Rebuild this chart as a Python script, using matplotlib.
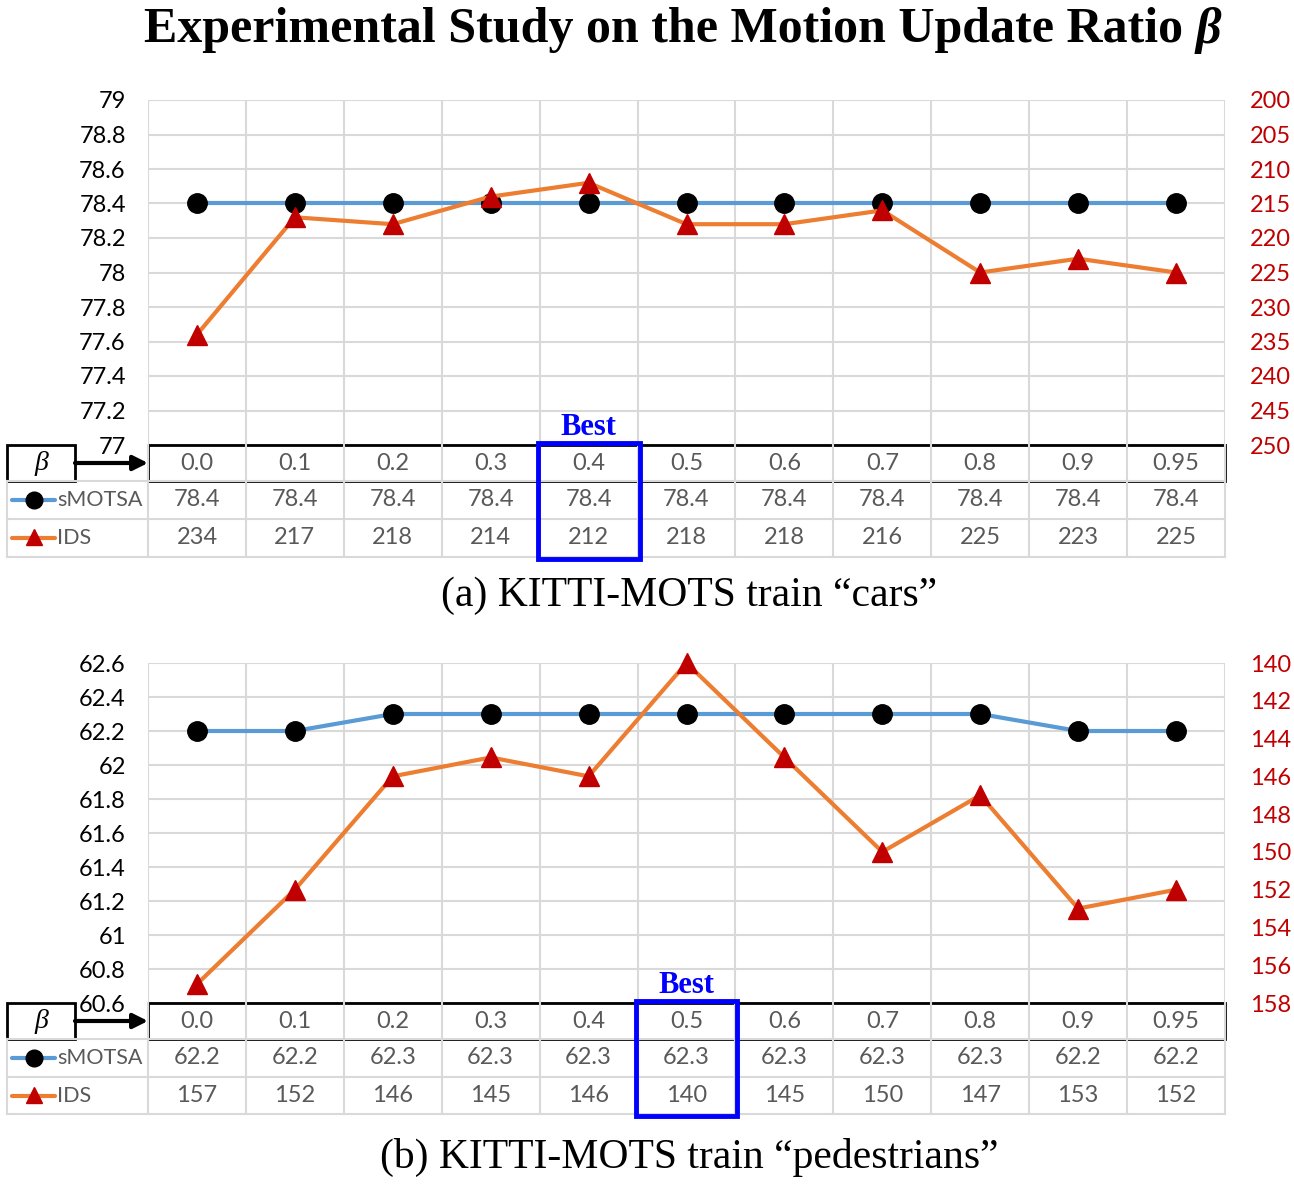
import matplotlib
matplotlib.use("Agg")
import matplotlib.pyplot as plt
import matplotlib.transforms as mtransforms
from matplotlib.patches import Rectangle

W, H = 1294, 1188

beta_labels = ["0.0", "0.1", "0.2", "0.3", "0.4", "0.5", "0.6", "0.7", "0.8", "0.9", "0.95"]

cars_smotsa = [78.4, 78.4, 78.4, 78.4, 78.4, 78.4, 78.4, 78.4, 78.4, 78.4, 78.4]
cars_ids = [234, 217, 218, 214, 212, 218, 218, 216, 225, 223, 225]
cars_best = 4

ped_smotsa = [62.2, 62.2, 62.3, 62.3, 62.3, 62.3, 62.3, 62.3, 62.3, 62.2, 62.2]
ped_ids = [157, 152, 146, 145, 146, 140, 145, 150, 147, 153, 152]
ped_best = 5

BLUE = "#5B9BD5"
ORANGE = "#ED7D31"
RED = "#C00000"
GRID = "#D9D9D9"
TXT = "#595959"
SANS = "Lato"
SERIF = "Liberation Serif"
FS = 17

fig = plt.figure(figsize=(W / 100, H / 100), dpi=100)

# overlay axes in pixel coordinates for table lines etc.
ov = fig.add_axes([0, 0, 1, 1])
ov.set_xlim(0, W)
ov.set_ylim(H, 0)
ov.axis("off")
ov.set_zorder(5)


def px_box(x0, y0, x1, y1):
    return [x0 / W, 1 - y1 / H, (x1 - x0) / W, (y1 - y0) / H]


def panel(top, bottom, rows, smotsa, ids, left_lim, left_step, right_lim, right_step,
          best, caption, cap_y):
    x0, x1 = 148, 1225
    ax = fig.add_axes(px_box(x0, top, x1, bottom))
    n = len(beta_labels)
    xs = list(range(n))
    ax.set_xlim(-0.5, n - 0.5)
    ax.set_ylim(*left_lim)
    nt = int(round((left_lim[1] - left_lim[0]) / left_step))
    ticks = [round(left_lim[0] + i * left_step, 2) for i in range(nt + 1)]
    ax.set_yticks(ticks)
    ax.set_yticklabels([f"{t:g}" for t in ticks], fontsize=FS, family=SANS)
    ax.tick_params(axis="y", length=0, pad=16)
    ax.set_xticks([])
    ax.grid(axis="y", color=GRID, linewidth=1.5)
    for b in range(n + 1):
        ax.axvline(b - 0.5, color=GRID, linewidth=1.5, zorder=0)
    for s in ax.spines.values():
        s.set_visible(False)
    ax.set_axisbelow(True)

    ax2 = ax.twinx()
    ax2.set_ylim(right_lim[1], right_lim[0])
    nr = int(round((right_lim[1] - right_lim[0]) / right_step))
    rt = [right_lim[0] + i * right_step for i in range(nr + 1)]
    ax2.set_yticks(rt)
    ax2.set_yticklabels([str(t) for t in rt], fontsize=FS, family=SANS, color=RED)
    ax2.tick_params(axis="y", length=0, pad=18)
    for s in ax2.spines.values():
        s.set_visible(False)

    ax.plot(xs, smotsa, color=BLUE, linewidth=3, marker="o", markersize=14,
            markerfacecolor="black", markeredgecolor="black", zorder=3, clip_on=False)
    ax2.plot(xs, ids, color=ORANGE, linewidth=3, marker="^", markersize=14,
             markerfacecolor=RED, markeredgecolor=RED, zorder=3, clip_on=False)

    # table
    tr = mtransforms.blended_transform_factory(ax.transData, ov.transData)
    r0, r1, r2, r3 = rows
    lx = 7
    for y in (r1, r2, r3):
        ov.plot([lx, x1], [y, y], color=GRID, linewidth=1.5)
    ov.plot([lx, lx], [r1, r3], color=GRID, linewidth=1.5)
    for b in range(n + 1):
        ov.plot([b - 0.5, b - 0.5], [bottom, r3], color=GRID, linewidth=1.5, transform=tr)
    ov.add_patch(Rectangle((x0, r0), x1 - x0, r1 - r0, fill=False, edgecolor="black",
                           linewidth=2))
    ov.add_patch(Rectangle((lx, r0), 75 - lx, r1 - r0, fill=False, edgecolor="black",
                           linewidth=2))
    ov.text(41, (r0 + r1) / 2 + 1, "β", fontsize=20, family=SERIF, style="italic",
            ha="center", va="center")
    ov.annotate("", xy=(x0, (r0 + r1) / 2), xytext=(75, (r0 + r1) / 2),
                arrowprops=dict(arrowstyle="-|>", color="black", lw=3,
                                mutation_scale=22, shrinkA=0, shrinkB=0))
    ym1 = (r1 + r2) / 2
    ym2 = (r2 + r3) / 2
    ov.plot([12, 55], [ym1, ym1], color=BLUE, linewidth=3, solid_capstyle="round")
    ov.plot([34], [ym1], marker="o", markersize=12, color="black")
    ov.plot([12, 55], [ym2, ym2], color=ORANGE, linewidth=3, solid_capstyle="round")
    ov.plot([34], [ym2 - 1], marker="^", markersize=12, color=RED)
    ov.text(57, ym1, "sMOTSA", fontsize=15.5, family=SANS, color=TXT, va="center")
    ov.text(57, ym2, "IDS", fontsize=15.5, family=SANS, color=TXT, va="center")
    for i in range(n):
        ov.text(i, (r0 + r1) / 2, beta_labels[i], transform=tr, fontsize=FS, family=SANS,
                color=TXT, ha="center", va="center")
        ov.text(i, ym1, f"{smotsa[i]:g}", transform=tr, fontsize=FS, family=SANS,
                color=TXT, ha="center", va="center")
        ov.text(i, ym2, str(ids[i]), transform=tr, fontsize=FS, family=SANS,
                color=TXT, ha="center", va="center")

    # best box
    ov.add_patch(Rectangle((best - 0.52, r0 - 2), 1.04, r3 - r0 + 4, transform=tr,
                           fill=False, edgecolor="#0000FF", linewidth=3.5, zorder=6))
    ov.text(best, r0 - 3, "Best", transform=tr, fontsize=22, family=SERIF,
            weight="bold", color="#0000FF", ha="center", va="bottom")

    ov.text(689, cap_y, caption, fontsize=30, family=SERIF, ha="center", va="center")


panel(100, 445, (445, 481, 519, 557), cars_smotsa, cars_ids, (77, 79), 0.2,
      (200, 250), 5, cars_best, "(a) KITTI-MOTS train \u201ccars\u201d", 596)
panel(663, 1003, (1003, 1039, 1077, 1114), ped_smotsa, ped_ids, (60.6, 62.6), 0.2,
      (140, 158), 2, ped_best, "(b) KITTI-MOTS train \u201cpedestrians\u201d", 1157)

ov.text(1196, 30, "Experimental Study on the Motion Update Ratio ", fontsize=36,
        family=SERIF, weight="bold", ha="right", va="center")
ov.text(1196, 30, "β", fontsize=36, family=SERIF, weight="bold", style="italic",
        ha="left", va="center")

fig.savefig("out.png", dpi=100)
